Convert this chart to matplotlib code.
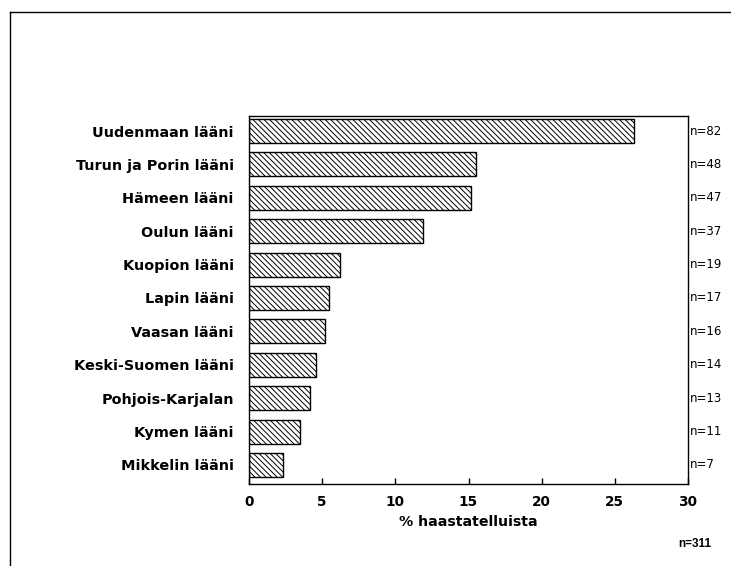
import matplotlib
matplotlib.use("Agg")
import matplotlib.pyplot as plt
from matplotlib.lines import Line2D

categories = ["Uudenmaan lääni", "Turun ja Porin lääni", "Hämeen lääni", "Oulun lääni",
              "Kuopion lääni", "Lapin lääni", "Vaasan lääni", "Keski-Suomen lääni",
              "Pohjois-Karjalan", "Kymen lääni", "Mikkelin lääni"]
values = [26.3, 15.5, 15.2, 11.9, 6.2, 5.5, 5.2, 4.6, 4.2, 3.5, 2.3]
n_labels = ["n=82", "n=48", "n=47", "n=37", "n=19", "n=17", "n=16", "n=14", "n=13", "n=11", "n=7"]
xticks = [0, 5, 10, 15, 20, 25, 30]
total_label = "n=311"
xlabel = "% haastatelluista"

plt.rcParams['font.family'] = ['DejaVu Sans']
plt.rcParams['hatch.linewidth'] = 0.7

fig = plt.figure(figsize=(7.31, 5.66), dpi=100)
ax = fig.add_axes([249/731, 1-484/566, (688-249)/731, (484-116)/566])

y = list(range(len(categories)))
ax.barh(y, values, height=0.72, color="white", edgecolor="black", linewidth=1.0,
        hatch="\\" * 6)
ax.set_ylim(len(categories) - 1 + 0.57, -0.45)
ax.set_xlim(0, 30)
ax.set_xticks(xticks)
ax.set_xticklabels([str(t) for t in xticks], fontsize=9.8, fontweight="bold")
ax.tick_params(axis="x", direction="in", length=4, width=1, pad=8)
ax.set_yticks(y)
ax.set_yticklabels(categories, fontsize=10.4, fontweight="bold")
ax.tick_params(axis="y", length=0, pad=11)
for s in ax.spines.values():
    s.set_linewidth(1.0)

for yi, lab in zip(y, n_labels):
    ax.text(1.004, yi, lab, transform=ax.get_yaxis_transform(), va="center", ha="left",
            fontsize=8.5)

ax.set_xlabel(xlabel, fontsize=10.2, fontweight="bold", labelpad=4)
fig.text(711/731, 1-544/566, total_label, ha="right", va="center", fontsize=8.5,
         fontweight="bold", family="Liberation Sans")

# outer frame (left and top edges)
fig.add_artist(Line2D([10/731, 10/731], [0, 1-12/566], transform=fig.transFigure,
                      color="black", linewidth=1.0))
fig.add_artist(Line2D([10/731, 1], [1-12/566, 1-12/566], transform=fig.transFigure,
                      color="black", linewidth=1.0))

fig.savefig("out.png", dpi=100)
